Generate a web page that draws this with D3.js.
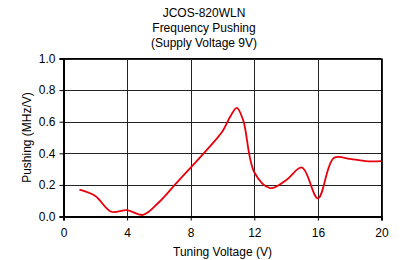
<!DOCTYPE html>
<html><head><meta charset="utf-8">
<script src="https://cdn.jsdelivr.net/npm/d3@7"></script>
<style>body{margin:0;background:#fff}svg{display:block;font-family:"Liberation Sans",Arial,sans-serif}</style>
</head><body>
<script>
const titleLines = ["JCOS-820WLN", "Frequency Pushing", "(Supply Voltage 9V)"];
const tuningVoltage = [1,2,3,4,5,6,7,8,9,10,10.5,10.9,11.3,12,13,14,15,16,17,18,19,20];
const pushing = [0.17,0.13,0.03,0.04,0.01,0.09,0.20,0.31,0.42,0.54,0.635,0.688,0.61,0.28,0.18,0.23,0.31,0.115,0.37,0.365,0.35,0.35];
const xTicks = [0,4,8,12,16,20];
const yTicks = [0,0.2,0.4,0.6,0.8,1.0];

const W=403,H=260, L=63.5, R=381.5, T=58.5, B=216.5;
const svg=d3.select("body").append("svg").attr("width",W).attr("height",H);
const x=d3.scaleLinear().domain([0,20]).range([L,R]);
const y=d3.scaleLinear().domain([0,1]).range([B,T]);

const t=svg.append("g").attr("font-size",12).attr("text-anchor","middle").attr("fill","#000");
titleLines.forEach((s,i)=>t.append("text").attr("x",204).attr("y",17+i*15).text(s));

// grid
svg.append("g").selectAll("line").data(yTicks.slice(1)).join("line")
  .attr("x1",L).attr("x2",R).attr("y1",d=>Math.round(y(d))+0.5).attr("y2",d=>Math.round(y(d))+0.5)
  .attr("stroke","#222").attr("stroke-width",1);
svg.append("g").selectAll("line").data(xTicks.slice(1)).join("line")
  .attr("y1",T).attr("y2",B).attr("x1",d=>Math.round(x(d))+0.5).attr("x2",d=>Math.round(x(d))+0.5)
  .attr("stroke","#222").attr("stroke-width",1);

// axes
const xa=svg.append("g").attr("transform",`translate(0,${B})`)
  .call(d3.axisBottom(x).tickValues(xTicks).tickFormat(d3.format("d")).tickSize(4).tickPadding(8));
const ya=svg.append("g").attr("transform",`translate(${L},0)`)
  .call(d3.axisLeft(y).tickValues(yTicks).tickFormat(d3.format(".1f")).tickSize(4).tickPadding(4));
[xa,ya].forEach(a=>{a.selectAll("text").attr("font-size",12).attr("fill","#000").attr("font-family","Liberation Sans, Arial, sans-serif");
  a.select(".domain").attr("stroke","#000").attr("stroke-width",2);
  a.selectAll(".tick line").attr("stroke","#000");});
svg.append("line").attr("x1",L).attr("x2",R).attr("y1",T).attr("y2",T).attr("stroke","#000");
svg.append("line").attr("x1",R).attr("x2",R).attr("y1",T).attr("y2",B).attr("stroke","#000");

// line
const line=d3.line().x((d,i)=>x(tuningVoltage[i])).y(d=>y(d)).curve(d3.curveCatmullRom.alpha(0.5));
svg.append("path").datum(pushing).attr("d",line).attr("fill","none").attr("stroke","#e8000b").attr("stroke-width",1.8);

svg.append("text").attr("x",(L+R)/2).attr("y",256).attr("text-anchor","middle").attr("font-size",12).text("Tuning Voltage (V)");
svg.append("text").attr("transform",`translate(31,${(T+B)/2}) rotate(-90)`).attr("text-anchor","middle").attr("font-size",12).text("Pushing (MHz/V)");
</script>
</body></html>
